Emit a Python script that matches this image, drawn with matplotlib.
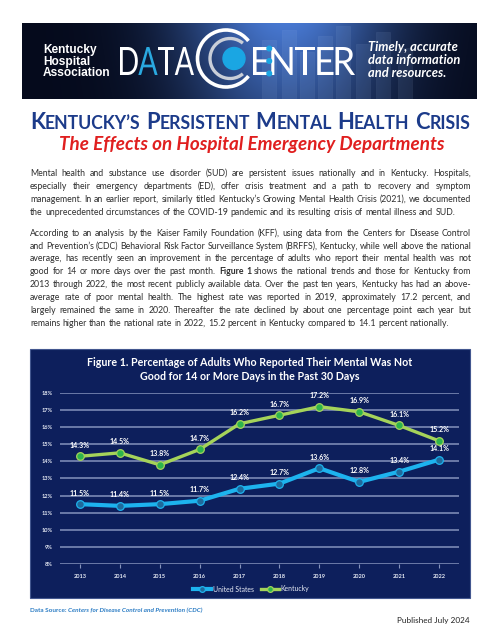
import matplotlib
matplotlib.use('Agg')
import matplotlib.pyplot as plt
import numpy as np
from matplotlib.patches import Rectangle, Arc, Circle, PathPatch
from matplotlib.textpath import TextPath
from matplotlib.font_manager import FontProperties
from matplotlib.transforms import Affine2D

# ---------------- data ----------------
years = ['2013', '2014', '2015', '2016', '2017', '2018', '2019', '2020', '2021', '2022']
us_rate = [11.5, 11.4, 11.5, 11.7, 12.4, 12.7, 13.6, 12.8, 13.4, 14.1]
ky_rate = [14.3, 14.5, 13.8, 14.7, 16.2, 16.7, 17.2, 16.9, 16.1, 15.2]
y_ticks = [8, 9, 10, 11, 12, 13, 14, 15, 16, 17, 18]
series_labels = ['United States', 'Kentucky']
chart_title = ['Figure 1. Percentage of Adults Who Reported Their Mental Was Not',
               'Good for 14 or More Days in the Past 30 Days']
page_title = "Kentucky’s Persistent Mental Health Crisis"
page_subtitle = 'The Effects on Hospital Emergency Departments'
org_lines = ['Kentucky', 'Hospital', 'Association']
tagline_lines = ['Timely, accurate', 'data information', 'and resources.']
paragraph_1 = [
    'Mental health and substance use disorder (SUD) are persistent issues nationally and in Kentucky. Hospitals,',
    'especially their emergency departments (ED), offer crisis treatment and a path to recovery and symptom',
    'management. In an earlier report, similarly titled Kentucky’s Growing Mental Health Crisis (2021), we documented',
    'the unprecedented circumstances of the COVID-19 pandemic and its resulting crisis of mental illness and SUD.',
]
paragraph_2 = [
    'According to an analysis by the Kaiser Family Foundation (KFF), using data from the Centers for Disease Control',
    'and Prevention’s (CDC) Behavioral Risk Factor Surveillance System (BRFFS), Kentucky, while well above the national',
    'average, has recently seen an improvement in the percentage of adults who report their mental health was not',
    'good for 14 or more days over the past month. *Figure *1 shows the national trends and those for Kentucky from',
    '2013 through 2022, the most recent publicly available data. Over the past ten years, Kentucky has had an above-',
    'average rate of poor mental health. The highest rate was reported in 2019, approximately 17.2 percent, and',
    'largely remained the same in 2020. Thereafter the rate declined by about one percentage point each year but',
    'remains higher than the national rate in 2022, 15.2 percent in Kentucky compared to 14.1 percent nationally.',
]
source_label = 'Data Source: '
source_text = 'Centers for Disease Control and Prevention (CDC)'
published = 'Published July 2024'

# ---------------- style ----------------
W, H = 500, 641
BODY = 'Lato'
NAVY = '#0D1F5C'
GRID = '#8593BC'
US_LINE = '#1DB3EE'
US_MARK = '#1F6A9C'
KY_LINE = '#A5D35A'
KY_MARK = '#2DB44C'
TITLE_BLUE = '#1C3B8A'
SUB_RED = '#E01F1F'
TEXT = '#2E2E2E'

fig = plt.figure(figsize=(W / 100, H / 100), dpi=100)
fig.patch.set_facecolor('white')
R = fig.canvas.get_renderer()


def fx(x):
    return x / W


def fy(y):
    return 1 - y / H


def width_of(s, size, **kw):
    t = fig.text(0, 0, s, fontsize=size, **kw)
    w = t.get_window_extent(renderer=R).width
    t.remove()
    return w


def fit_size(s, target, **kw):
    return 10 * target / width_of(s, 10, **kw)


def space_w(size, **kw):
    return width_of('a a', size, **kw) - width_of('aa', size, **kw)


def adv(s, size, **kw):
    return width_of(s + 'l', size, **kw) - width_of('l', size, **kw)


# ---------------- banner ----------------
bx0, bx1, by0, by1 = 22, 476, 23, 99
bax = fig.add_axes([fx(bx0), fy(by1), (bx1 - bx0) / W, (by1 - by0) / H])
bax.set_xlim(bx0, bx1)
bax.set_ylim(by1, by0)
bax.axis('off')
gx = np.linspace(bx0, bx1, 454)
gy = np.linspace(by0, by1, 76)
GX, GY = np.meshgrid(gx, gy)
glow = np.exp(-((GX - 285) / 105) ** 2) * (1.0 - 0.35 * (GY - by0) / (by1 - by0))
dark = np.array([0.02, 0.04, 0.11])
blue = np.array([0.28, 0.47, 0.82])
img = dark[None, None, :] + np.clip(glow, 0, 1)[..., None] * (blue - dark)[None, None, :]
bax.imshow(img, extent=(bx0, bx1, by1, by0), aspect='auto', zorder=0)
# faint decorative bars in banner background
for bx, bt in [(262, 40), (282, 30), (300, 52), (318, 36), (336, 26), (356, 44), (376, 32), (398, 48)]:
    bax.add_patch(Rectangle((bx, bt), 14, by1 - bt, facecolor='#9FC0F0', alpha=0.10,
                            edgecolor='#C8DAF5', lw=0.4, zorder=1))

osz = fit_size('Association', 67, family='Liberation Sans', fontweight='bold')
for i, s in enumerate(org_lines):
    bax.text(43, [50, 61.5, 73][i], s, fontsize=osz, family='Liberation Sans', fontweight='bold',
             color='white', va='center', ha='left', zorder=5)

tsz = fit_size('data information', 92, family='Lato', fontweight='bold', style='italic')
for i, s in enumerate(tagline_lines):
    bax.text(368, [47, 60, 73][i], s, fontsize=tsz, family='Lato', fontweight='bold',
             style='italic', color='white', va='center', ha='left', zorder=5)


def glyph_row(ax, letters, colors, x0, x1, top, base, gap, prop):
    paths = [TextPath((0, 0), ch, size=1, prop=prop) for ch in letters]
    exts = [p.get_extents() for p in paths]
    hmax = max(e.y1 for e in exts)
    sy = (base - top) / hmax
    sx = (x1 - x0 - gap * (len(letters) - 1)) / sum(e.width for e in exts)
    x = x0
    spans = []
    for p, e, c in zip(paths, exts, colors):
        t = Affine2D().translate(-e.x0, 0).scale(sx, -sy).translate(x, base)
        ax.add_patch(PathPatch(p, transform=t + ax.transData, facecolor=c, edgecolor='none', zorder=6))
        spans.append((x, x + e.width * sx))
        x += e.width * sx + gap
    return spans


lp = FontProperties(family='Lato', weight='normal')
glyph_row(bax, 'DATA', ['white', '#2AA9E0', 'white', 'white'], 120, 194, 47, 75, 0.5, lp)
spans = glyph_row(bax, 'ENTER', ['white'] * 5, 253, 355, 47, 75, 2.0, lp)
bax.add_patch(Arc((226, 58.5), 57, 57, theta1=38, theta2=322, color='white', lw=2.6, zorder=6))
bax.add_patch(Arc((230, 58.5), 40, 40, theta1=50, theta2=310, color='#C9CED8', lw=2.4, zorder=6))
bax.add_patch(Circle((234, 58.5), 11, color='#1AA6E3', zorder=7))
for yy in [48.5, 61, 73.5]:
    bax.add_patch(Circle((spans[0][1], yy), 2.3, color='#1AA6E3', zorder=7))

# ---------------- page title ----------------
runs = []
words = page_title.split(' ')
for wi, word in enumerate(words):
    runs.append((word[0].upper(), 1.0))
    runs.append((word[1:].upper(), 0.8))
    if wi < len(words) - 1:
        runs.append((' ', 1.0))


def runs_width(scale):
    tot = 0
    for s, f in runs:
        if s == ' ':
            tot += space_w(scale * f, family=BODY, fontweight='bold')
        else:
            tot += adv(s, scale * f, family=BODY, fontweight='bold')
    return tot


scale = 10 * 440 / runs_width(10)
x = 250 - runs_width(scale) / 2
for s, f in runs:
    if s == ' ':
        x += space_w(scale * f, family=BODY, fontweight='bold')
        continue
    fig.text(fx(x), fy(129), s, fontsize=scale * f, family=BODY, fontweight='bold',
             color=TITLE_BLUE, va='baseline', ha='left')
    x += adv(s, scale * f, family=BODY, fontweight='bold')

ssz = fit_size(page_subtitle, 385, family=BODY, fontweight='bold', style='italic')
fig.text(fx(252), fy(150), page_subtitle, fontsize=ssz, family=BODY, fontweight='bold',
         style='italic', color=SUB_RED, va='baseline', ha='center')

# ---------------- body text ----------------
bsz = fit_size(paragraph_1[-1], 425, family=BODY)


def draw_line(line, y, justify):
    toks = []
    for w in line.split(' '):
        if w.startswith('*'):
            toks.append((w[1:], 'bold'))
        else:
            toks.append((w, 'normal'))
    widths = [width_of(w, bsz, family=BODY, fontweight=wt) for w, wt in toks]
    x0, x1 = 30, 471
    if justify:
        gap = (x1 - x0 - sum(widths)) / (len(toks) - 1)
    else:
        gap = space_w(bsz, family=BODY)
    xx = x0
    for (w, wt), wd in zip(toks, widths):
        fig.text(fx(xx), fy(y), w, fontsize=bsz, family=BODY, fontweight=wt,
                 color=TEXT, va='baseline', ha='left')
        xx += wd + gap


for i, line in enumerate(paragraph_1):
    draw_line(line, [173, 186, 199, 212][i] + 3, i < len(paragraph_1) - 1)
for i, line in enumerate(paragraph_2):
    draw_line(line, [233, 246, 258, 271, 284, 297, 310, 323][i] + 3, i < len(paragraph_2) - 1)

# ---------------- chart box ----------------
fig.add_artist(Rectangle((fx(30), fy(598)), 440 / W, (598 - 349) / H, transform=fig.transFigure,
                         facecolor=NAVY, edgecolor='#43578F', lw=0.8, zorder=0))
csz = fit_size(chart_title[0], 324, family=BODY, fontweight='bold')
for i, s in enumerate(chart_title):
    fig.text(fx(250), fy([363, 376.5][i]), s, fontsize=csz, family=BODY, fontweight='bold',
             color='white', va='center', ha='center')

ax = fig.add_axes([fx(60), fy(564), (459 - 60) / W, (564 - 393) / H])
ax.set_facecolor('none')
xi = np.arange(len(years))
ax.set_xlim(-0.5, len(years) - 0.5)
ax.set_ylim(min(y_ticks), max(y_ticks))
ax.set_yticks(y_ticks)
ax.set_yticklabels([f'{v}%' for v in y_ticks])
ax.set_xticks(xi)
ax.set_xticklabels(years)
for sp in ax.spines.values():
    sp.set_visible(False)
ax.yaxis.grid(True, color=GRID, lw=1.1, zorder=1)
ax.set_axisbelow(True)
tick_sz = fit_size('2013', 13, family=BODY, fontweight='bold')
ax.tick_params(axis='y', length=0, pad=5, labelsize=tick_sz, labelcolor='#E6EAF4')
ax.tick_params(axis='x', length=3, width=0.8, color=GRID, pad=4, labelsize=tick_sz, labelcolor='#E6EAF4')
for lab in ax.get_xticklabels() + ax.get_yticklabels():
    lab.set_fontweight('bold')
    lab.set_family(BODY)

l_us, = ax.plot(xi, us_rate, color=US_LINE, lw=3.0, marker='o', ms=5.5, mfc=US_MARK,
                mec=US_LINE, mew=0.9, zorder=3, label=series_labels[0])
l_ky, = ax.plot(xi, ky_rate, color=KY_LINE, lw=2.4, marker='o', ms=5.5, mfc=KY_MARK,
                mec=KY_LINE, mew=0.9, zorder=4, label=series_labels[1])
dsz = fit_size('14.3%', 20, family=BODY, fontweight='bold')
for series in (us_rate, ky_rate):
    for i, v in enumerate(series):
        ax.annotate(f'{v}%', (xi[i], v), xytext=(0, 8), textcoords='offset points',
                    ha='center', va='center', color='white', fontsize=dsz,
                    fontweight='bold', family=BODY, zorder=6)

lsz = fit_size(series_labels[0], 41, family=BODY)
leg = ax.legend(handles=[l_us, l_ky], loc='center', bbox_to_anchor=(fx(251), fy(589)),
                bbox_transform=fig.transFigure, ncol=2, frameon=False,
                labelcolor='#E6EAF4', handlelength=2.6, columnspacing=1.0, handletextpad=0.2,
                markerscale=0.75, prop={'family': BODY, 'size': lsz})

# ---------------- footer ----------------
fsz = fit_size(source_label + source_text, 168, family=BODY, fontweight='bold', style='italic')
fig.text(fx(30), fy(610), source_label, fontsize=fsz, family=BODY, fontweight='bold',
         color='#2B7CC4', va='center', ha='left')
lw_ = adv(source_label.strip(), fsz, family=BODY, fontweight='bold') + space_w(fsz, family=BODY)
fig.text(fx(30 + lw_), fy(610), source_text, fontsize=fsz, family=BODY, fontweight='bold',
         style='italic', color='#2B7CC4', va='center', ha='left')

psz = fit_size(published, 72, family=BODY)
fig.text(fx(470), fy(621), published, fontsize=psz, family=BODY, color='#222222',
         va='center', ha='right')

fig.savefig('out.png', dpi=100, facecolor='white')
